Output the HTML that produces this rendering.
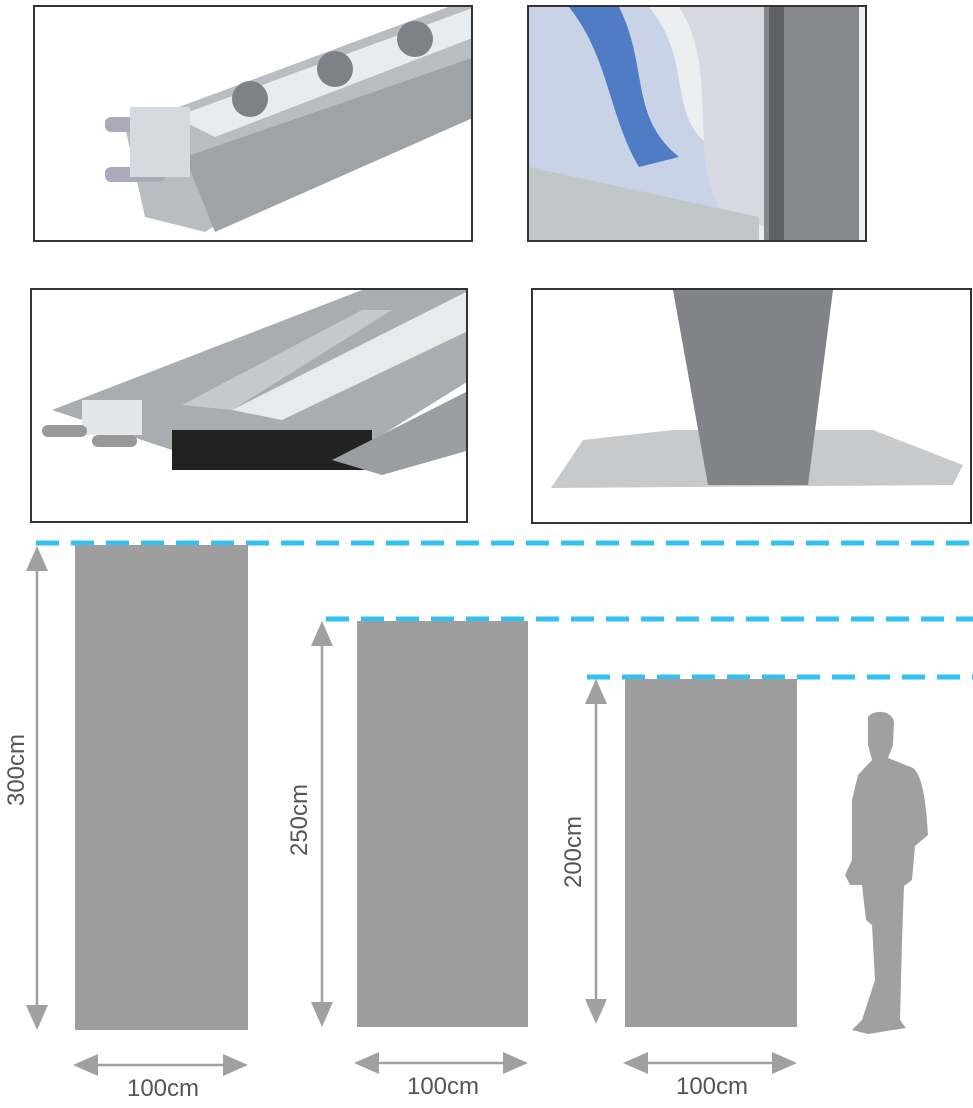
<!DOCTYPE html>
<html><head><meta charset="utf-8"><style>
html,body{margin:0;padding:0;background:#fff;}
body{width:973px;height:1108px;position:relative;overflow:hidden;font-family:"Liberation Sans",sans-serif;}
.box{position:absolute;border:2px solid #333;box-sizing:border-box;background:#fff;overflow:hidden;}
</style></head><body>
<div class="box" style="left:33px;top:5px;width:440px;height:237px;">
<svg width="440" height="237">
<polygon points="90,120 440,-10 440,60 170,225 110,210" fill="#b9bdc2"/>
<polygon points="140,110 440,0 440,30 180,130" fill="#e9ecef"/>
<polygon points="150,150 440,50 440,110 180,225" fill="#9ea3a8"/>
<circle cx="215" cy="92" r="18" fill="#7d8288"/><circle cx="300" cy="62" r="18" fill="#7d8288"/><circle cx="380" cy="32" r="18" fill="#7d8288"/>
<rect x="70" y="110" width="60" height="15" rx="6" fill="#aab"/><rect x="70" y="160" width="60" height="15" rx="6" fill="#aab"/>
<rect x="95" y="100" width="60" height="70" fill="#d4dadf"/>
</svg></div>
<div class="box" style="left:527px;top:5px;width:340px;height:237px;">
<svg width="340" height="237">
<rect width="340" height="237" fill="#eceef0"/>
<path d="M0,0 L120,0 C170,60 130,120 200,150 L230,160 L230,237 L0,237Z" fill="#c9d3e8"/>
<path d="M40,0 L90,0 C120,60 100,110 150,150 L110,160 C80,110 80,50 40,0Z" fill="#4f7cc4"/>
<path d="M150,0 L235,0 L235,220 L190,200 C160,150 190,60 150,0Z" fill="#d8d8e2"/>
<path d="M0,160 L230,210 L230,237 L0,237Z" fill="#c3c6c8"/>
<rect x="235" y="0" width="95" height="237" fill="#86878a"/>
<rect x="240" y="0" width="15" height="237" fill="#5f6063"/>
</svg></div>
<div class="box" style="left:30px;top:288px;width:438px;height:235px;">
<svg width="438" height="235">
<polygon points="20,120 330,0 438,0 438,90 310,170 170,170" fill="#a9adb2"/>
<polygon points="200,120 438,0 438,40 250,130" fill="#e8eaec"/>
<polygon points="150,115 330,20 360,20 200,120" fill="#c5c8cc"/>
<rect x="140" y="140" width="200" height="40" fill="#222"/>
<polygon points="300,170 438,100 438,160 350,185" fill="#9a9ea3"/>
<rect x="50" y="110" width="60" height="35" fill="#e3e6ea"/>
<rect x="10" y="135" width="45" height="12" rx="6" fill="#999"/><rect x="60" y="145" width="45" height="12" rx="6" fill="#999"/>
</svg></div>
<div class="box" style="left:531px;top:288px;width:441px;height:236px;">
<svg width="441" height="236">
<polygon points="50,150 140,140 340,140 430,175 420,195 18,198" fill="#c7c9cb"/>
<polygon points="140,0 300,0 275,195 175,195" fill="#828386"/>
</svg></div>
<svg width="973" height="1108" style="position:absolute;left:0;top:0">
<g stroke="#34c0f0" stroke-width="5" stroke-dasharray="23 12">
<line x1="36" y1="543" x2="973" y2="543"/>
<line x1="326" y1="619" x2="973" y2="619"/>
<line x1="587" y1="677" x2="973" y2="677"/>
</g>
<g fill="#9e9e9e">
<rect x="75" y="545" width="173" height="485"/>
<rect x="357" y="621" width="171" height="406"/>
<rect x="625" y="679" width="172" height="348"/>
</g>
<g stroke="#a0a0a0" stroke-width="2.5" fill="#a0a0a0">
<line x1="37" y1="560" x2="37" y2="1015"/>
<polygon points="26,571 48,571 37,546" stroke="none"/>
<polygon points="26,1005 48,1005 37,1030" stroke="none"/>
<line x1="322" y1="630" x2="322" y2="1015"/>
<polygon points="311,646 333,646 322,621" stroke="none"/>
<polygon points="311,1002 333,1002 322,1027" stroke="none"/>
<line x1="596" y1="690" x2="596" y2="1012"/>
<polygon points="585,704 607,704 596,679" stroke="none"/>
<polygon points="585,999 607,999 596,1024" stroke="none"/>
<line x1="90" y1="1065" x2="230" y2="1065"/>
<polygon points="73,1065 98,1054 98,1076" stroke="none"/>
<polygon points="248,1065 223,1054 223,1076" stroke="none"/>
<line x1="370" y1="1063" x2="512" y2="1063"/>
<polygon points="354,1063 379,1052 379,1074" stroke="none"/>
<polygon points="528,1063 503,1052 503,1074" stroke="none"/>
<line x1="640" y1="1063" x2="780" y2="1063"/>
<polygon points="623,1063 648,1052 648,1074" stroke="none"/>
<polygon points="797,1063 772,1052 772,1074" stroke="none"/>
</g>
<path fill="#a0a0a0" d="M868,717 C874,709 892,710 894,722 L893,745 L888,758 L913,768 C922,775 926,800 928,835 L915,846 L912,880 L904,886 L902,940 L900,1020 L906,1028 L868,1034 L852,1030 L862,1020 L875,980 L872,925 L866,920 L862,885 L850,885 L845,875 L852,860 L852,800 L858,775 L872,760 L868,745Z"/>
<g fill="#555" font-size="24" font-family="Liberation Sans, sans-serif" text-anchor="middle">
<text x="163" y="1096">100cm</text>
<text x="443" y="1094">100cm</text>
<text x="712" y="1094">100cm</text>
<text transform="translate(24,770) rotate(-90)">300cm</text>
<text transform="translate(307,820) rotate(-90)">250cm</text>
<text transform="translate(581,852) rotate(-90)">200cm</text>
</g>
</svg>
</body></html>
